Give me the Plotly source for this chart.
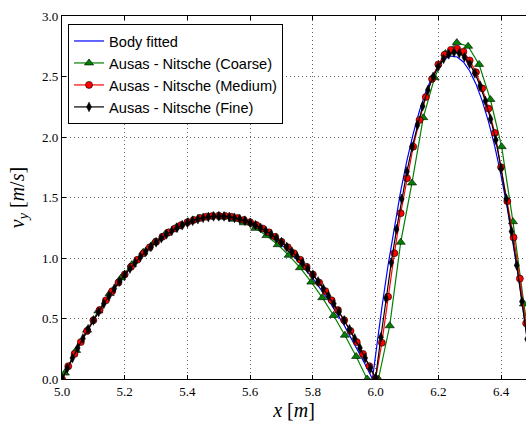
import plotly.graph_objects as go

# ---------------- data ----------------
x_body = [5.00, 5.05, 5.10, 5.15, 5.20, 5.25, 5.30, 5.35, 5.40, 5.45,
          5.50, 5.55, 5.60, 5.65, 5.70, 5.75, 5.80, 5.85, 5.90, 5.95,
          5.97, 5.99,
          6.00, 6.02, 6.04, 6.06, 6.08, 6.10, 6.12, 6.14, 6.16, 6.18,
          6.20, 6.22, 6.24, 6.26, 6.28, 6.30, 6.32, 6.34, 6.36, 6.38,
          6.40, 6.42, 6.44, 6.46, 6.48, 6.50]
y_body = [0.000, 0.257, 0.487, 0.689, 0.864, 1.012, 1.132, 1.225, 1.291, 1.329,
          1.340, 1.323, 1.280, 1.209, 1.110, 0.984, 0.831, 0.651, 0.443, 0.208,
          0.106, 0.000,
          0.205, 0.591, 0.944, 1.265, 1.552, 1.807, 2.028, 2.217, 2.373, 2.496,
          2.587, 2.644, 2.669, 2.661, 2.620, 2.546, 2.439, 2.299, 2.127, 1.922,
          1.683, 1.412, 1.109, 0.772, 0.402, 0.000]

x_coarse = [5.009, 5.045, 5.080, 5.116, 5.152, 5.188, 5.223, 5.259, 5.295, 5.330,
            5.366, 5.402, 5.438, 5.473, 5.509, 5.545, 5.580, 5.616, 5.652, 5.688,
            5.723, 5.759, 5.795, 5.830, 5.866, 5.902, 5.938, 5.973,
            6.009, 6.045, 6.080, 6.116, 6.152, 6.188, 6.223, 6.259, 6.295, 6.330,
            6.366, 6.402, 6.438, 6.473, 6.509]
y_coarse = [0.049, 0.236, 0.404, 0.563, 0.706, 0.835, 0.947, 1.047, 1.132, 1.201,
            1.258, 1.300, 1.327, 1.339, 1.337, 1.321, 1.291, 1.245, 1.185, 1.110,
            1.023, 0.920, 0.801, 0.672, 0.525, 0.362, 0.186, 0.000,
            0.000, 0.440, 1.130, 1.620, 2.160, 2.490, 2.690, 2.780, 2.750, 2.600,
            2.310, 1.920, 1.300, 0.620, 0.000]

x_medium = [5.00, 5.02, 5.04, 5.06, 5.08, 5.10, 5.12, 5.14, 5.16, 5.18,
            5.20, 5.22, 5.24, 5.26, 5.28, 5.30, 5.32, 5.34, 5.36, 5.38,
            5.40, 5.42, 5.44, 5.46, 5.48, 5.50, 5.52, 5.54, 5.56, 5.58,
            5.60, 5.62, 5.64, 5.66, 5.68, 5.70, 5.72, 5.74, 5.76, 5.78,
            5.80, 5.82, 5.84, 5.86, 5.88, 5.90, 5.92, 5.94, 5.96, 5.98,
            6.00, 6.02, 6.04, 6.06, 6.08, 6.10, 6.12, 6.14, 6.16, 6.18,
            6.20, 6.22, 6.24, 6.26, 6.28, 6.30, 6.32, 6.34, 6.36, 6.38,
            6.40, 6.42, 6.44, 6.46, 6.48, 6.50]
y_medium = [0.000, 0.106, 0.207, 0.305, 0.397, 0.486, 0.570, 0.650, 0.726, 0.797,
            0.864, 0.927, 0.985, 1.039, 1.089, 1.134, 1.175, 1.212, 1.244, 1.272,
            1.296, 1.315, 1.331, 1.341, 1.348, 1.350, 1.348, 1.341, 1.331, 1.315,
            1.296, 1.272, 1.244, 1.212, 1.175, 1.134, 1.089, 1.039, 0.985, 0.927,
            0.864, 0.797, 0.726, 0.650, 0.570, 0.486, 0.397, 0.305, 0.207, 0.106,
            0.000, 0.300, 0.680, 1.040, 1.370, 1.660, 1.920, 2.140, 2.330, 2.480,
            2.600, 2.680, 2.720, 2.730, 2.705, 2.633, 2.535, 2.402, 2.235, 2.034,
            1.750, 1.470, 1.170, 0.830, 0.460, 0.050]

x_fine = [5.0, 5.0167, 5.0333, 5.05, 5.0667, 5.0833, 5.1, 5.1167, 5.1333, 5.15,
          5.1667, 5.1833, 5.2, 5.2167, 5.2333, 5.25, 5.2667, 5.2833, 5.3, 5.3167,
          5.3333, 5.35, 5.3667, 5.3833, 5.4, 5.4167, 5.4333, 5.45, 5.4667, 5.4833,
          5.5, 5.5167, 5.5333, 5.55, 5.5667, 5.5833, 5.6, 5.6167, 5.6333, 5.65,
          5.6667, 5.6833, 5.7, 5.7167, 5.7333, 5.75, 5.7667, 5.7833, 5.8, 5.8167,
          5.8333, 5.85, 5.8667, 5.8833, 5.9, 5.9167, 5.9333, 5.95, 5.9667, 5.9833,
          6.0, 6.0167, 6.0333, 6.05, 6.0667, 6.0833, 6.1, 6.1167, 6.1333, 6.15,
          6.1667, 6.1833, 6.2, 6.2167, 6.2333, 6.25, 6.2667, 6.2833, 6.3, 6.3167,
          6.3333, 6.35, 6.3667, 6.3833, 6.4, 6.4167, 6.4333, 6.45, 6.4667, 6.4833,
          6.5]
y_fine = [0.000, 0.088, 0.173, 0.256, 0.335, 0.411, 0.484, 0.554, 0.622, 0.686,
          0.747, 0.806, 0.861, 0.913, 0.962, 1.009, 1.052, 1.092, 1.130, 1.164,
          1.196, 1.224, 1.249, 1.272, 1.291, 1.308, 1.321, 1.332, 1.339, 1.344,
          1.345, 1.344, 1.339, 1.332, 1.321, 1.308, 1.291, 1.272, 1.249, 1.224,
          1.196, 1.164, 1.130, 1.092, 1.052, 1.009, 0.962, 0.913, 0.861, 0.806,
          0.747, 0.686, 0.622, 0.554, 0.484, 0.411, 0.335, 0.256, 0.173, 0.088,
          0.010, 0.345, 0.666, 0.963, 1.237, 1.488, 1.715, 1.919, 2.098, 2.255,
          2.388, 2.497, 2.583, 2.646, 2.684, 2.700, 2.692, 2.660, 2.605, 2.526,
          2.424, 2.298, 2.148, 1.976, 1.740, 1.490, 1.220, 0.940, 0.640, 0.330,
          0.020]

x_ticks = [5.0, 5.2, 5.4, 5.6, 5.8, 6.0, 6.2, 6.4]
y_ticks = [0.0, 0.5, 1.0, 1.5, 2.0, 2.5, 3.0]

names = ["Body fitted", "Ausas - Nitsche (Coarse)",
         "Ausas - Nitsche (Medium)", "Ausas - Nitsche (Fine)"]

# ---------------- figure ----------------
fig = go.Figure()
fig.add_trace(go.Scatter(x=x_body, y=y_body, mode="lines", name=names[0],
                         line=dict(color="#0000ff", width=1.2)))
fig.add_trace(go.Scatter(x=x_coarse, y=y_coarse, mode="lines+markers", name=names[1],
                         line=dict(color="#008000", width=1.2),
                         marker=dict(symbol="triangle-up", size=8, color="#008000",
                                     line=dict(color="black", width=0.6))))
fig.add_trace(go.Scatter(x=x_medium, y=y_medium, mode="lines+markers", name=names[2],
                         line=dict(color="#ff0000", width=1.2),
                         marker=dict(symbol="circle", size=7, color="#ff0000",
                                     line=dict(color="black", width=0.6))))
fig.add_trace(go.Scatter(x=x_fine, y=y_fine, mode="lines+markers", name=names[3],
                         line=dict(color="black", width=1.2),
                         marker=dict(symbol="diamond-tall", size=7, color="black",
                                     line=dict(color="black", width=0.5))))

serif = "Liberation Serif, DejaVu Serif, serif"
axis_common = dict(
    showgrid=True, gridcolor="rgba(0,0,0,0.6)", gridwidth=1, griddash="1px,3px",
    zeroline=False, showline=True, linecolor="black", linewidth=1.2,
    ticks="inside", ticklen=4, tickcolor="black", tickwidth=1,
    tickfont=dict(family=serif, size=13, color="black"),
)

fig.update_layout(
    width=526, height=422,
    margin=dict(l=62, r=0, t=16, b=43),
    paper_bgcolor="white", plot_bgcolor="white",
    showlegend=True,
    legend=dict(x=0.013, y=0.978, xanchor="left", yanchor="top",
                bgcolor="white", bordercolor="black", borderwidth=1,
                font=dict(family="Liberation Sans, Arial, sans-serif", size=14.6, color="black"),
                itemwidth=30, tracegroupgap=0),
    xaxis=dict(range=[5.0, 6.4796], tickvals=x_ticks,
               ticktext=[f"{v:.1f}" for v in x_ticks],
               mirror="allticks",
               title=dict(text="<i>x</i> [<i>m</i>]", standoff=2,
                          font=dict(family=serif, size=20, color="black")),
               **axis_common),
    yaxis=dict(range=[0.0, 3.0], tickvals=y_ticks,
               ticktext=[f"{v:.1f}" for v in y_ticks],
               title=dict(text="<i>v</i><sub><i>y</i></sub> [<i>m</i>/<i>s</i>]", standoff=12,
                          font=dict(family=serif, size=20, color="black")),
               **axis_common),
)

fig.write_html(
    "out.html",
    config={"displayModeBar": False},
    post_script="document.body.style.margin='0';document.body.style.padding='0';"
                "document.body.style.overflow='hidden';",
)
